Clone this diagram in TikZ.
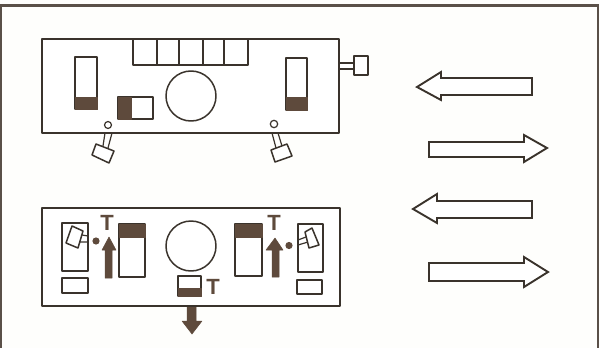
\documentclass[tikz,border=0pt]{standalone}
\usepackage{fontspec}
\setmainfont{Liberation Sans}
\definecolor{ink}{HTML}{3A332C}
\definecolor{darkfill}{HTML}{5E4A3C}
\definecolor{framec}{HTML}{5A5048}
\definecolor{paper}{HTML}{FEFEFC}
\tikzset{
  part/.style={draw=ink,line width=1.5pt,line join=round,fill=white},
  thin part/.style={draw=ink,line width=1.2pt,line join=round},
  panel/.style={draw=ink,line width=1.8pt,line join=round,fill=white},
  solid part/.style={fill=darkfill,draw=darkfill,line width=0.5pt,line join=round},
  bigarrow/.style={draw=ink,line width=1.9pt,line join=miter,fill=white},
  tmark/.style={font=\bfseries\fontsize{22}{22}\selectfont,text=darkfill,inner sep=0pt,outer sep=0pt}
}
\begin{document}
\begin{tikzpicture}[x=1pt,y=-1pt]
\useasboundingbox (0,0) rectangle (600,348);
\fill[paper] (0,0) rectangle (600,348);
% outer frame
\draw[framec,line width=2.2pt] (1.2,348) -- (1.2,5.5) -- (598,5.5) -- (598,348);
% upper panel
\draw[thin part,fill=white] (339,63) rectangle (354,69);
\draw[part] (354,56) rectangle (368,75);
\draw[thin part] (105,133) -- (103,146) (112,133) -- (108,148);
\draw[thin part] (272,133) -- (276,148) (278,133) -- (282,146);
\draw[part] (96,144) -- (114,151) -- (109,163) -- (92,155) -- cycle;
\draw[part] (271,150) -- (287,144) -- (292,156) -- (275,162) -- cycle;
\draw[panel] (42,39) rectangle (339,133);
\draw[part] (133,39) rectangle (248,65);
\foreach \xx in {157,179,203,224} \draw[thin part] (\xx,39) -- (\xx,65);
\draw[part] (75,57) rectangle (97,109);
\fill[solid part] (75,97) rectangle (97,109);
\draw[part] (286,58) rectangle (307,110);
\fill[solid part] (286,97) rectangle (307,110);
\draw[part] (118,97) rectangle (153,119);
\fill[solid part] (118,97) rectangle (131,119);
\draw[part] (191,96) circle[radius=25];
\draw[thin part] (108,125) circle[radius=3.5];
\draw[thin part] (274,124) circle[radius=3.7];
% lower panel
\draw[solid part] (187,306) -- (196,306) -- (196,321) -- (202,321) -- (192,334) -- (182,321) -- (187,321) -- cycle;
\draw[panel] (42,208) rectangle (340,306);
\draw[part] (62,223) rectangle (88,271);
\draw[part] (62,278) rectangle (88,293);
\draw[thin part] (82,235) -- (88,236) (80,242) -- (88,242);
\draw[part] (72,226) -- (83,231) -- (78,248) -- (66,243) -- cycle;
\fill[darkfill] (96,241) circle[radius=3.6];
\node[tmark] (tl) at (107,223) {T};
\draw[solid part] (105,278) -- (112,278) -- (112,250) -- (116,250) -- (109,237) -- (102,250) -- (105,250) -- cycle;
\draw[part] (119,224) rectangle (145,277);
\fill[solid part] (119,224) rectangle (145,237);
\draw[part] (191,246) circle[radius=25];
\draw[part] (235,224) rectangle (262,276);
\fill[solid part] (235,224) rectangle (262,237);
\node[tmark] (tr) at (274,223) {T};
\draw[solid part] (272,277) -- (279,277) -- (279,250) -- (283,250) -- (275,238) -- (266,250) -- (272,250) -- cycle;
\fill[darkfill] (289,245.5) circle[radius=3.6];
\draw[part] (298,224) rectangle (323,272);
\draw[part] (297,280) rectangle (322,294);
\draw[thin part] (298,240) -- (306,237) (298,245) -- (308,242);
\draw[part] (305,232) -- (312,228) -- (319,245) -- (309,248) -- cycle;
\draw[part] (178,276) rectangle (201,296);
\fill[solid part] (178,288) rectangle (201,296);
\node[tmark] (tc) at (213,287) {T};
% large arrows
\draw[bigarrow] (532,78) -- (441,78) -- (441,72) -- (417,87) -- (441,100) -- (441,95) -- (532,95) -- cycle;
\draw[bigarrow] (429,142) -- (524,142) -- (524,135) -- (547,148) -- (524,162) -- (524,157) -- (429,157) -- cycle;
\draw[bigarrow] (532,201) -- (437,201) -- (437,194) -- (413,209) -- (437,223) -- (437,218) -- (532,218) -- cycle;
\draw[bigarrow] (429,263) -- (524,263) -- (524,257) -- (548,272) -- (524,287) -- (524,281) -- (429,281) -- cycle;
\end{tikzpicture}
\end{document}
